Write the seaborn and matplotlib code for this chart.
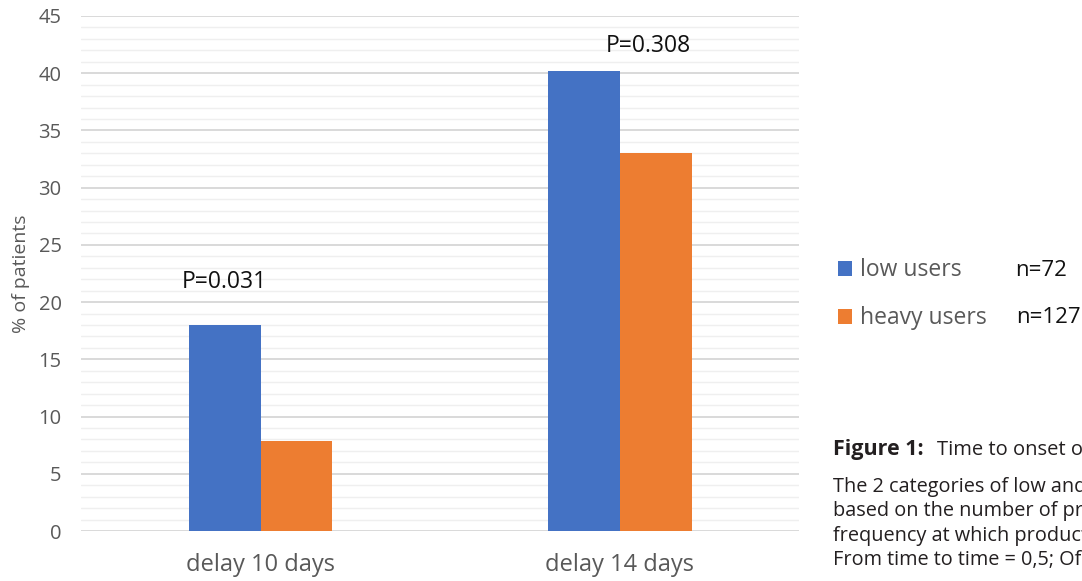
import matplotlib
matplotlib.use("Agg")
import matplotlib.pyplot as plt
from matplotlib.ticker import MultipleLocator
from matplotlib.patches import Patch
import seaborn as sns
import pandas as pd

# Data
categories = ["delay 10 days", "delay 14 days"]
groups = ["low users", "heavy users"]
low_users = [18.0, 40.2]
heavy_users = [7.9, 33.0]
p_values = ["P=0.031", "P=0.308"]
group_sizes = ["n=72", "n=127"]

df = pd.DataFrame({
    "delay": categories * 2,
    "group": [groups[0]] * len(categories) + [groups[1]] * len(categories),
    "pct": low_users + heavy_users,
})

sns.set_theme(style="white")
plt.rcParams["font.family"] = ["Open Sans", "DejaVu Sans"]

colors = {"low users": "#4472C4", "heavy users": "#ED7D31"}
grey = "#595959"

fig = plt.figure(figsize=(10.82, 5.81), dpi=100)
ax = fig.add_axes([0.0749, 0.086, 0.664, 0.8865])

sns.barplot(data=df, x="delay", y="pct", hue="group", hue_order=groups,
            palette=colors, width=0.4, saturation=1, ax=ax, legend=False,
            edgecolor="none")

ax.set_xlim(-0.5, 1.5)
ax.set_ylim(0, 45)
ax.yaxis.set_major_locator(MultipleLocator(5))
ax.yaxis.set_minor_locator(MultipleLocator(1))
ax.grid(axis="y", which="major", color="#d9d9d9", lw=1.4, zorder=0)
ax.grid(axis="y", which="minor", color="#efefef", lw=1.0, zorder=0)
ax.set_axisbelow(True)
for s in ax.spines.values():
    s.set_visible(False)

ax.tick_params(axis="y", which="both", length=0, labelsize=14.5, labelcolor=grey, pad=14)
ax.tick_params(axis="x", length=0, labelsize=17, labelcolor=grey, pad=16)
ax.set_xlabel("")
ax.set_ylabel("% of patients", fontsize=14, color=grey)
ax.yaxis.set_label_coords(-0.071, 0.5)

# p-value annotations above each group
p_x = [-0.1, 1.08]
p_y = [21.8, 42.4]
for txt, xx, yy in zip(p_values, p_x, p_y):
    ax.text(xx, yy, txt, ha="center", va="center", fontsize=16.5, color="#111111")

# Legend with group sizes
handles = [Patch(facecolor=colors[g], edgecolor="none") for g in groups]
fig.legend(handles, groups, loc="upper left", bbox_to_anchor=(0.755, 0.591),
           frameon=False, fontsize=16.5, labelcolor=grey, handlelength=0.65,
           handleheight=0.65, handletextpad=0.35, labelspacing=1.05)
fig.text(0.938, 0.535, group_sizes[0], fontsize=16, color="#111111", va="center")
fig.text(0.939, 0.454, group_sizes[1], fontsize=16, color="#111111", va="center")

# Figure caption
cap_color = "#231f20"
fig.text(0.770, 0.226, "Figure 1:", fontsize=15.5, fontweight="bold", color=cap_color, va="center")
fig.text(0.866, 0.226, "Time to onset of", fontsize=14.5, color=cap_color, va="center")
caption_lines = [
    "The 2 categories of low and",
    "based on the number of pro",
    "frequency at which product",
    "From time to time = 0,5; Of",
]
for k, line in enumerate(caption_lines):
    fig.text(0.770, 0.162 - k * 0.042, line, fontsize=14.3, color=cap_color, va="center")

fig.savefig("out.png", dpi=100)
